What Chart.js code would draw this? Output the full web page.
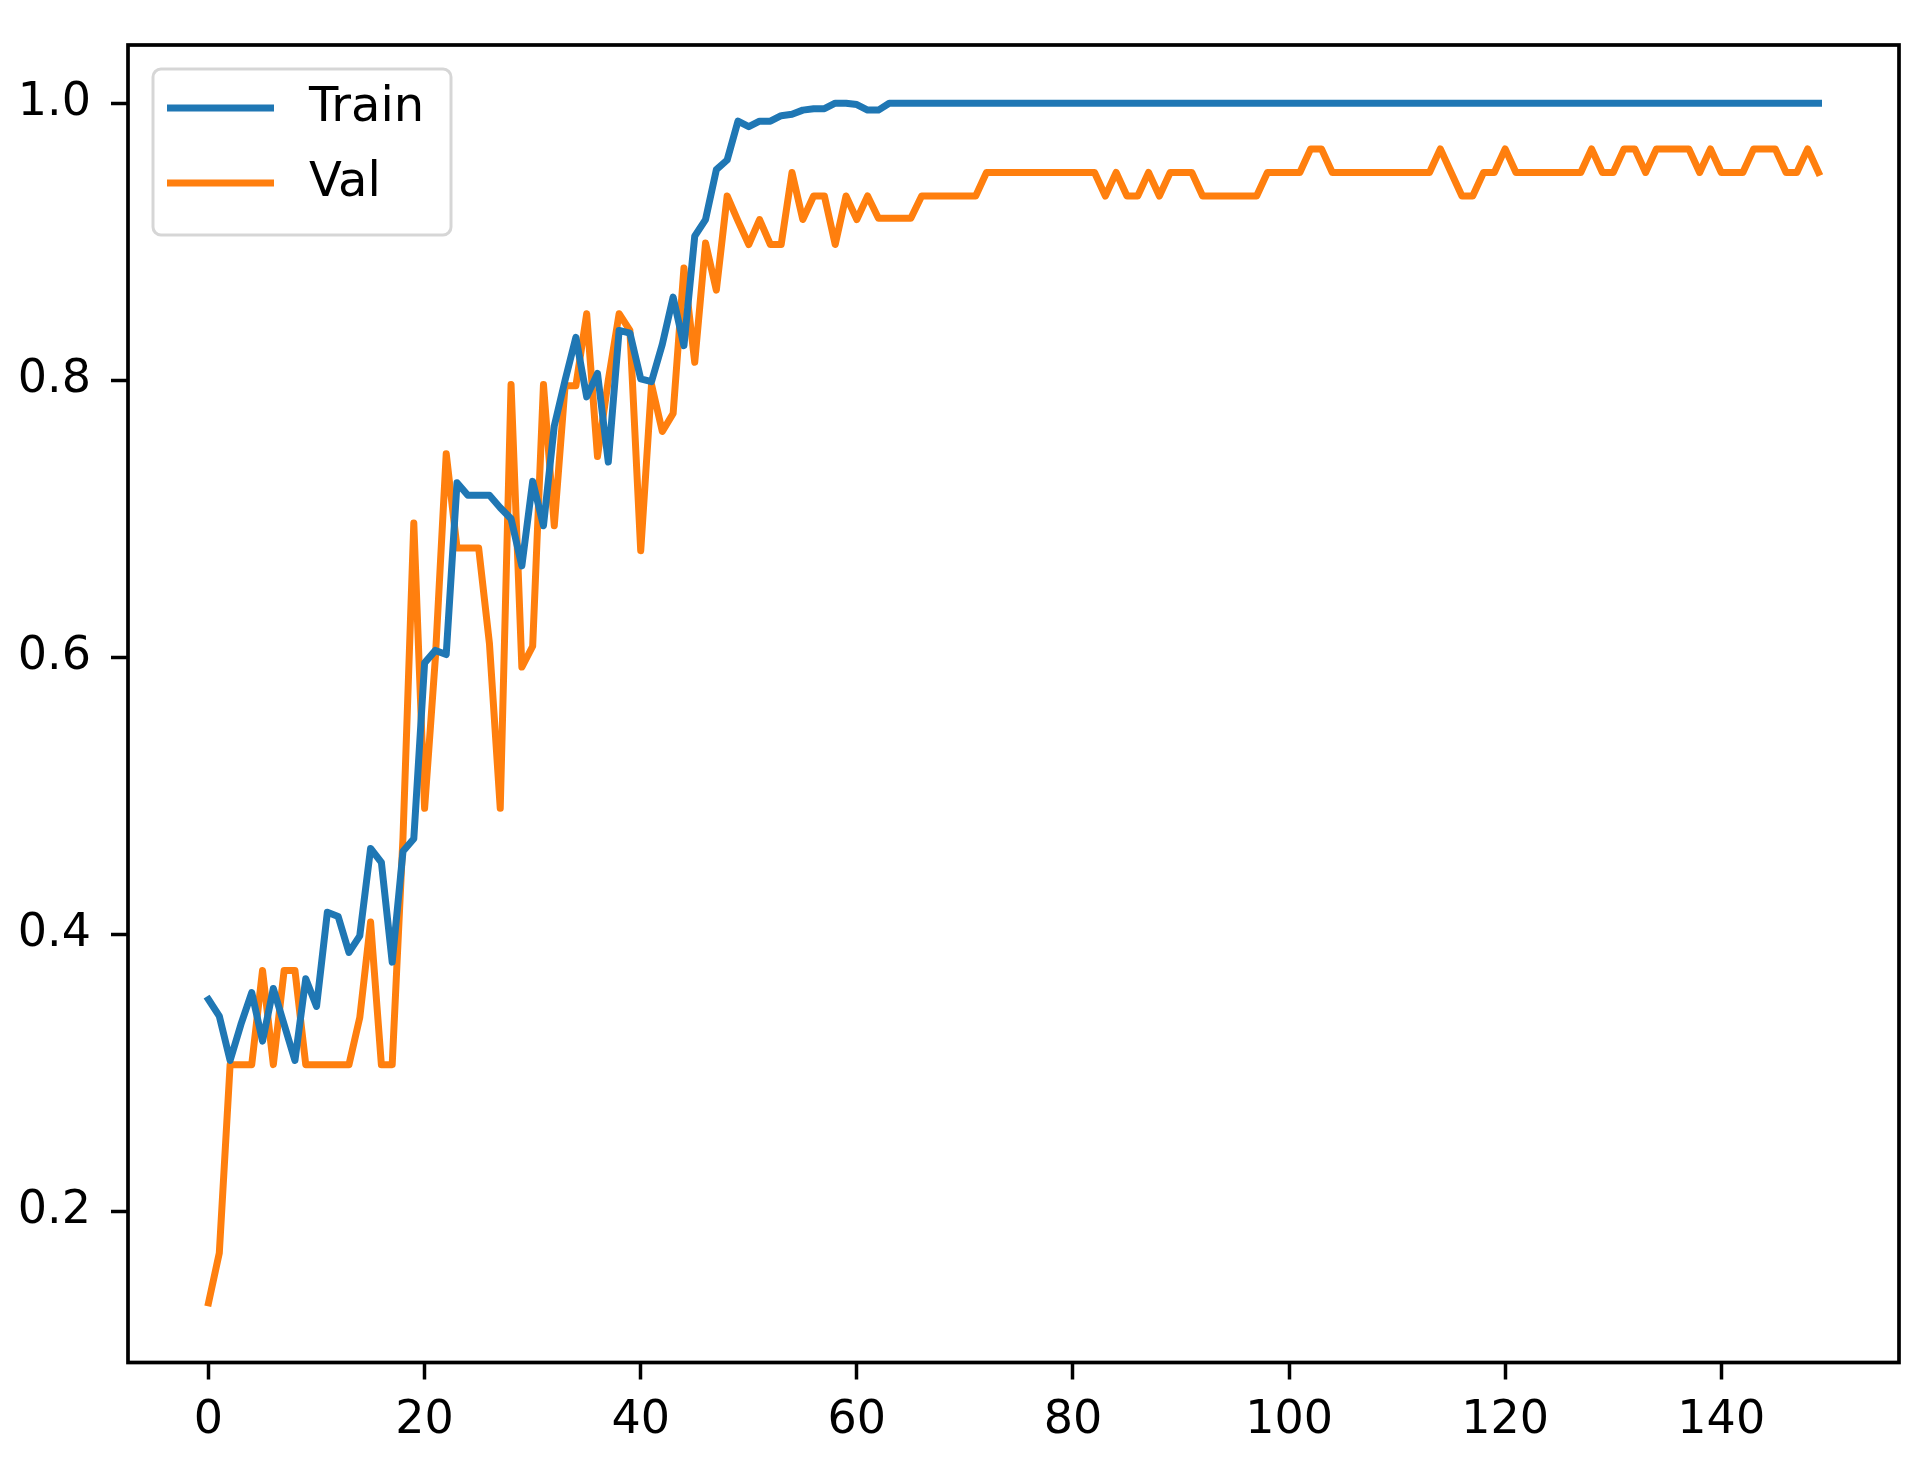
<!DOCTYPE html>
<html>
<head>
<meta charset="utf-8">
<script src="https://cdn.jsdelivr.net/npm/chart.js@4.4.1/dist/chart.umd.min.js"></script>
<style>
  html, body { margin: 0; padding: 0; background: #fff; }
  canvas { display: block; }
</style>
</head>
<body>
<canvas id="accChart" width="1925" height="1466"></canvas>
<script>
// epochs 0..149
const epochs = Array.from({ length: 150 }, (_, i) => i);

const trainAcc = [
  0.353, 0.341, 0.309, 0.335, 0.358, 0.323, 0.361, 0.335, 0.309, 0.368,
  0.348, 0.416, 0.413, 0.387, 0.399, 0.462, 0.452, 0.380, 0.460, 0.469,
  0.596, 0.605, 0.602, 0.726, 0.717, 0.717, 0.717, 0.708, 0.700, 0.666,
  0.727, 0.695, 0.767, 0.800, 0.831, 0.788, 0.805, 0.741, 0.836, 0.834,
  0.801, 0.799, 0.826, 0.860, 0.825, 0.904, 0.916, 0.952, 0.959, 0.987,
  0.983, 0.987, 0.987, 0.991, 0.992, 0.995, 0.996, 0.996, 1.000, 1.000,
  0.999, 0.995, 0.995, 1.000, 1.000, 1.000, 1.000, 1.000, 1.000, 1.000,
  1.000, 1.000, 1.000, 1.000, 1.000, 1.000, 1.000, 1.000, 1.000, 1.000,
  1.000, 1.000, 1.000, 1.000, 1.000, 1.000, 1.000, 1.000, 1.000, 1.000,
  1.000, 1.000, 1.000, 1.000, 1.000, 1.000, 1.000, 1.000, 1.000, 1.000,
  1.000, 1.000, 1.000, 1.000, 1.000, 1.000, 1.000, 1.000, 1.000, 1.000,
  1.000, 1.000, 1.000, 1.000, 1.000, 1.000, 1.000, 1.000, 1.000, 1.000,
  1.000, 1.000, 1.000, 1.000, 1.000, 1.000, 1.000, 1.000, 1.000, 1.000,
  1.000, 1.000, 1.000, 1.000, 1.000, 1.000, 1.000, 1.000, 1.000, 1.000,
  1.000, 1.000, 1.000, 1.000, 1.000, 1.000, 1.000, 1.000, 1.000, 1.000
];

const valAcc = [
  0.134, 0.170, 0.306, 0.306, 0.306, 0.374, 0.306, 0.374, 0.374, 0.306,
  0.306, 0.306, 0.306, 0.306, 0.340, 0.409, 0.306, 0.306, 0.470, 0.697,
  0.491, 0.600, 0.747, 0.679, 0.679, 0.679, 0.610, 0.491, 0.797, 0.593,
  0.608, 0.797, 0.695, 0.796, 0.796, 0.848, 0.745, 0.800, 0.848, 0.836,
  0.677, 0.797, 0.763, 0.776, 0.881, 0.813, 0.899, 0.865, 0.933, 0.915,
  0.898, 0.916, 0.898, 0.898, 0.950, 0.916, 0.933, 0.933, 0.898, 0.933,
  0.916, 0.933, 0.917, 0.917, 0.917, 0.917, 0.933, 0.933, 0.933, 0.933,
  0.933, 0.933, 0.950, 0.950, 0.950, 0.950, 0.950, 0.950, 0.950, 0.950,
  0.950, 0.950, 0.950, 0.933, 0.950, 0.933, 0.933, 0.950, 0.933, 0.950,
  0.950, 0.950, 0.933, 0.933, 0.933, 0.933, 0.933, 0.933, 0.950, 0.950,
  0.950, 0.950, 0.967, 0.967, 0.950, 0.950, 0.950, 0.950, 0.950, 0.950,
  0.950, 0.950, 0.950, 0.950, 0.967, 0.950, 0.933, 0.933, 0.950, 0.950,
  0.967, 0.950, 0.950, 0.950, 0.950, 0.950, 0.950, 0.950, 0.967, 0.950,
  0.950, 0.967, 0.967, 0.950, 0.967, 0.967, 0.967, 0.967, 0.950, 0.967,
  0.950, 0.950, 0.950, 0.967, 0.967, 0.967, 0.950, 0.950, 0.967, 0.950
];

const xTicks = [0, 20, 40, 60, 80, 100, 120, 140];
const yTicks = [0.2, 0.4, 0.6, 0.8, 1.0];

const FONT = "'DejaVu Sans', sans-serif";

// box round the plot, like the matplotlib spines
const framePlugin = {
  id: 'frame',
  afterDraw(chart) {
    const { ctx, chartArea: a } = chart;
    ctx.save();
    ctx.strokeStyle = '#000';
    ctx.lineWidth = 3.7;
    ctx.strokeRect(a.left, a.top, a.right - a.left, a.bottom - a.top);
    ctx.restore();
  }
};

// legend inside the axes, upper left
const innerLegend = {
  id: 'innerLegend',
  afterDraw(chart) {
    const { ctx, chartArea: a } = chart;
    const x = a.left + 25, y = a.top + 24, w = 298, h = 166, r = 8;
    ctx.save();
    ctx.beginPath();
    ctx.roundRect(x, y, w, h, r);
    ctx.fillStyle = 'rgba(255,255,255,0.8)';
    ctx.fill();
    ctx.lineWidth = 3;
    ctx.strokeStyle = 'rgba(204,204,204,0.8)';
    ctx.stroke();
    ctx.font = '48px ' + FONT;
    ctx.textBaseline = 'middle';
    chart.data.datasets.forEach((ds, i) => {
      const ly = y + 39 + i * 75;
      ctx.beginPath();
      ctx.moveTo(x + 14, ly);
      ctx.lineTo(x + 121, ly);
      ctx.lineWidth = 7;
      ctx.strokeStyle = ds.borderColor;
      ctx.stroke();
      ctx.fillStyle = '#000';
      ctx.fillText(ds.label, x + 156, ly + 1);
    });
    ctx.restore();
  }
};

new Chart(document.getElementById('accChart'), {
  type: 'line',
  data: {
    labels: epochs,
    datasets: [
      {
        label: 'Train',
        data: trainAcc,
        borderColor: '#1f77b4',
        borderWidth: 7,
        borderJoinStyle: 'round',
        borderCapStyle: 'square',
        pointRadius: 0,
        tension: 0,
        fill: false
      },
      {
        label: 'Val',
        data: valAcc,
        borderColor: '#ff7f0e',
        borderWidth: 7,
        borderJoinStyle: 'round',
        borderCapStyle: 'square',
        pointRadius: 0,
        tension: 0,
        fill: false
      }
    ]
  },
  options: {
    responsive: false,
    animation: false,
    devicePixelRatio: 1,
    layout: { padding: { top: 45, right: 26, bottom: 0, left: 0 } },
    plugins: {
      legend: { display: false },
      tooltip: { enabled: false }
    },
    scales: {
      x: {
        type: 'linear',
        min: -7.45,
        max: 156.45,
        afterFit: (s) => { s.height = 103.5; s.paddingLeft = 0; s.paddingRight = 0; },
        afterBuildTicks: (s) => { s.ticks = xTicks.map(v => ({ value: v })); },
        border: { display: false },
        grid: {
          drawOnChartArea: false,
          drawTicks: true,
          tickLength: 17,
          tickWidth: 3.5,
          color: '#000'
        },
        ticks: {
          color: '#000',
          padding: 14,
          maxRotation: 0,
          font: { family: FONT, size: 46 }
        }
      },
      y: {
        min: 0.091,
        max: 1.042,
        afterFit: (s) => { s.width = 128; s.paddingTop = 0; s.paddingBottom = 0; },
        afterBuildTicks: (s) => { s.ticks = yTicks.map(v => ({ value: v })); },
        border: { display: false },
        grid: {
          drawOnChartArea: false,
          drawTicks: true,
          tickLength: 17,
          tickWidth: 3.5,
          color: '#000'
        },
        ticks: {
          color: '#000',
          padding: 20,
          font: { family: FONT, size: 46 },
          callback: (v) => v.toFixed(1)
        }
      }
    }
  },
  plugins: [framePlugin, innerLegend]
});
</script>
</body>
</html>
